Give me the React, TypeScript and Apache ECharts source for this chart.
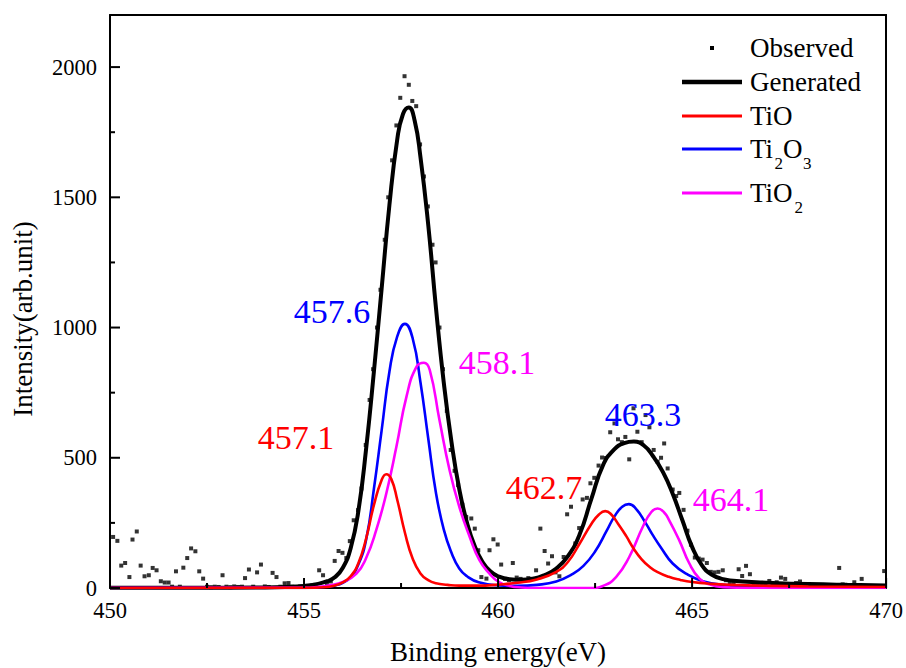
import React, { useEffect, useRef } from 'react';
import * as echarts from 'echarts';

const FONT = '"Liberation Serif", "Times New Roman", Times, serif';

// ---------- data ----------
const seriesNames = ['Observed', 'Generated', 'TiO', 'Ti2O3', 'TiO2'];
const seriesColors = ['#000000', '#000000', '#ff0000', '#0000ff', '#ff00ff'];

const xTicks = [450, 455, 460, 465, 470];
const xMinorTicks = [452.5, 457.5, 462.5, 467.5];
const yTicks = [0, 500, 1000, 1500, 2000];
const yMinorTicks = [250, 750, 1250, 1750];

const observed: [number, number][] = [
  [450.08, 196], [450.19, 181], [450.29, 86], [450.39, 96], [450.5, 42], [450.58, 186], [450.69, 217],
  [450.79, 86], [450.89, 45], [451.0, 49], [451.1, 77], [451.2, 68], [451.31, 26], [451.41, 21],
  [451.51, 21], [451.6, 5], [451.7, 64], [451.8, 5], [451.89, 78], [451.99, 115], [452.09, 152],
  [452.2, 141], [452.3, 64], [452.4, 36], [452.5, 5], [452.6, 3], [452.7, 5], [452.8, 4], [452.9, 49],
  [453.0, 5], [453.1, 3], [453.2, 6], [453.3, 4], [453.4, 5], [453.48, 38], [453.58, 71], [453.69, 5],
  [453.79, 60], [453.89, 90], [453.99, 6], [454.09, 4], [454.19, 58], [454.29, 42], [454.39, 5],
  [454.5, 18], [454.6, 19], [454.7, 5], [454.8, 4], [454.9, 6], [455.0, 5], [455.1, 8], [455.2, 10],
  [455.29, 12], [455.39, 68], [455.49, 49], [455.59, 18], [455.69, 25], [455.79, 104], [455.89, 142],
  [455.99, 135], [456.09, 115], [456.18, 180], [456.28, 260], [456.39, 299], [456.48, 382], [456.59, 549],
  [456.69, 722], [456.78, 840], [456.88, 1000], [456.97, 1145], [457.08, 1337], [457.17, 1500],
  [457.27, 1642], [457.38, 1776], [457.48, 1882], [457.59, 1965], [457.7, 1932], [457.79, 1870],
  [457.89, 1850], [457.99, 1703], [458.09, 1580], [458.19, 1465], [458.31, 1318], [458.39, 1250],
  [458.49, 1000], [458.58, 840], [458.68, 680], [458.78, 530], [458.88, 450], [458.97, 395],
  [459.08, 320], [459.18, 273], [459.31, 267], [459.4, 228], [459.49, 145], [459.57, 42], [459.7, 36],
  [459.78, 145], [459.88, 187], [459.99, 167], [460.08, 90], [460.18, 35], [460.28, 30], [460.38, 96],
  [460.48, 40], [460.58, 35], [460.68, 30], [460.78, 38], [460.88, 35], [460.98, 68], [461.09, 228],
  [461.2, 142], [461.29, 94], [461.39, 122], [461.48, 60], [461.58, 45], [461.69, 119], [461.78, 283],
  [461.88, 312], [461.99, 171], [462.09, 230], [462.18, 340], [462.29, 346], [462.38, 402], [462.48, 423],
  [462.59, 470], [462.68, 501], [462.78, 499], [462.89, 598], [463.0, 632], [463.09, 571], [463.19, 560],
  [463.28, 580], [463.38, 494], [463.49, 690], [463.59, 600], [463.7, 560], [463.8, 664], [463.9, 617],
  [464.01, 530], [464.11, 485], [464.2, 500], [464.28, 555], [464.37, 459], [464.5, 378], [464.59, 353],
  [464.67, 365], [464.78, 300], [464.88, 220], [464.97, 166], [465.07, 117], [465.17, 113], [465.27, 109],
  [465.38, 96], [465.48, 62], [465.58, 60], [465.68, 62], [465.79, 68], [465.87, 30], [465.97, 20],
  [466.07, 18], [466.2, 72], [466.29, 46], [466.39, 85], [466.49, 53], [466.59, 15], [466.69, 14],
  [466.79, 12], [466.89, 15], [466.99, 27], [467.08, 10], [467.18, 22], [467.29, 40], [467.4, 35],
  [467.5, 12], [467.59, 10], [467.68, 19], [467.78, 25], [467.88, 8], [468.0, 6], [468.2, 5],
  [468.4, 6], [468.6, 5], [468.79, 77], [468.88, 14], [468.98, 8], [469.08, 6], [469.18, 22],
  [469.28, 5], [469.37, 35], [469.47, 5], [469.6, 6], [469.8, 5], [469.95, 65],
];

const generatedCurve: [number, number][] = [
  [450, 1], [451, 1], [452, 1], [453, 1], [454, 2], [454.5, 4], [455, 8], [455.3, 14], [455.6, 26],
  [455.8, 42], [456.0, 78], [456.2, 152], [456.4, 295], [456.6, 535], [456.8, 830], [457.0, 1150],
  [457.2, 1470], [457.4, 1720], [457.55, 1820], [457.7, 1845], [457.85, 1795], [458.0, 1655],
  [458.2, 1395], [458.4, 1075], [458.6, 790], [458.8, 560], [459.0, 380], [459.2, 250], [459.4, 160],
  [459.6, 100], [459.8, 64], [460.0, 45], [460.3, 34], [460.6, 32], [460.9, 36], [461.2, 50],
  [461.5, 75], [461.8, 122], [462.1, 205], [462.4, 340], [462.7, 470], [463.0, 533], [463.25, 556],
  [463.5, 562], [463.75, 548], [464.0, 505], [464.25, 445], [464.5, 362], [464.75, 260], [465.0, 158],
  [465.25, 88], [465.5, 52], [465.8, 34], [466.3, 25], [467, 20], [468, 15], [469, 12], [470, 10],
];

const tioCurve: [number, number][] = [
  [450, 0], [455, 0.5], [455.5, 3], [455.8, 10], [456.0, 22], [456.2, 45], [456.4, 95], [456.6, 190],
  [456.8, 318], [457.0, 415], [457.12, 437], [457.25, 418], [457.4, 340], [457.6, 212], [457.8, 112],
  [458.0, 56], [458.2, 30], [458.4, 18], [458.7, 12], [459.0, 9], [459.5, 9], [460.0, 13], [460.5, 20],
  [461.0, 33], [461.5, 62], [461.8, 100], [462.1, 170], [462.4, 245], [462.6, 282], [462.76, 295],
  [462.9, 285], [463.1, 245], [463.3, 200], [463.5, 150], [463.7, 110], [463.9, 82], [464.1, 62],
  [464.4, 43], [464.7, 31], [465.0, 23], [465.5, 16], [466, 12], [467, 8], [468, 6], [470, 4],
];

const ti2o3Curve: [number, number][] = [
  [450, 0], [455, 0.5], [455.5, 4], [455.8, 10], [456.0, 20], [456.2, 42], [456.4, 90], [456.6, 185],
  [456.8, 380], [457.0, 605], [457.2, 830], [457.4, 965], [457.6, 1014], [457.8, 958], [458.0, 790],
  [458.2, 575], [458.4, 365], [458.6, 225], [458.8, 135], [459.0, 75], [459.2, 45], [459.5, 22],
  [460.0, 10], [460.5, 8], [461.0, 12], [461.5, 25], [461.9, 52], [462.2, 85], [462.5, 140],
  [462.8, 220], [463.0, 275], [463.2, 312], [463.37, 322], [463.55, 305], [463.8, 250], [464.0, 200],
  [464.2, 155], [464.5, 94], [464.9, 50], [465.3, 25], [465.8, 12], [466.5, 5], [468, 2], [470, 1],
];

const tio2Curve: [number, number][] = [
  [450, 0], [455, 1], [455.4, 5], [455.66, 10], [456.0, 23], [456.35, 55], [456.6, 115], [456.86, 222],
  [457.12, 363], [457.38, 542], [457.64, 735], [457.9, 850], [458.09, 865], [458.24, 837], [458.49, 645],
  [458.75, 453], [459.0, 312], [459.27, 196], [459.52, 107], [459.78, 55], [460.0, 25], [460.3, 8],
  [460.6, 2], [461, 0], [462.4, 0], [462.7, 8], [463.04, 42], [463.38, 119], [463.73, 235],
  [463.95, 292], [464.11, 305], [464.28, 290], [464.41, 260], [464.67, 183], [464.93, 94],
  [465.19, 36], [465.44, 14], [465.8, 3], [466.5, 0], [470, 0],
];

const peakLabels = ['457.6', '458.1', '457.1', '462.7', '463.3', '464.1'];
const peakLabelColors = ['#0000ff', '#ff00ff', '#ff0000', '#ff0000', '#0000ff', '#ff00ff'];

// ---------- layout (pixels) ----------
const peakLabelPos: [number, number][] = [
  [332, 311], [497, 362], [296, 437], [544, 487], [643, 414], [731, 499],
];
const legendRowsY = [48, 82, 116, 149, 193];
const legendLineX = [682, 742];
const legendTextX = 750;
const MAJOR_TICK = 10;
const MINOR_TICK = 5;

const blackLine = () => ({ color: '#000', width: 2 });

export default function App() {
  const ref = useRef<HTMLDivElement>(null);

  useEffect(() => {
    if (!ref.current) return;
    const chart = echarts.init(ref.current, undefined, { renderer: 'svg' });

    const lineSeries = (name: string, data: [number, number][], color: string, width: number, z: number) => ({
      name,
      type: 'line',
      data,
      smooth: 0.5,
      showSymbol: false,
      symbol: 'none',
      lineStyle: { color, width },
      itemStyle: { color },
      z,
    });

    const frameAxis = {
      type: 'value',
      axisLine: { show: true, onZero: false, lineStyle: blackLine() },
      axisTick: { show: false },
      axisLabel: { show: false },
      splitLine: { show: false },
    };

    chart.setOption({
      animation: false,
      backgroundColor: '#fff',
      grid: { left: 110, right: 19, top: 15, bottom: 80, show: false },
      xAxis: [
        {
          type: 'value',
          min: xTicks[0],
          max: xTicks[xTicks.length - 1],
          interval: 5,
          position: 'bottom',
          axisLine: { show: true, onZero: false, lineStyle: blackLine() },
          axisTick: { show: false },
          splitLine: { show: false },
          axisLabel: { show: true, margin: 11, fontSize: 22.5, color: '#000', fontFamily: FONT },
        },
        { ...frameAxis, min: 450, max: 470, position: 'top' },
      ],
      yAxis: [
        {
          type: 'value',
          min: 0,
          max: 2200,
          interval: 500,
          position: 'left',
          axisLine: { show: true, onZero: false, lineStyle: blackLine() },
          axisTick: { show: false },
          splitLine: { show: false },
          axisLabel: {
            margin: 13,
            fontSize: 22.5,
            color: '#000',
            fontFamily: FONT,
            formatter: (v: number) => (yTicks.includes(v) ? String(v) : ''),
          },
        },
        { ...frameAxis, min: 0, max: 2200, position: 'right' },
      ],
      series: [
        {
          name: seriesNames[0],
          type: 'scatter',
          data: observed,
          symbol: 'rect',
          symbolSize: 4,
          itemStyle: { color: '#000' },
          z: 2,
        },
        lineSeries(seriesNames[1], generatedCurve, seriesColors[1], 4, 3),
        lineSeries(seriesNames[3], ti2o3Curve, seriesColors[3], 2.6, 4),
        lineSeries(seriesNames[4], tio2Curve, seriesColors[4], 2.6, 5),
        lineSeries(seriesNames[2], tioCurve, seriesColors[2], 2.6, 6),
      ],
    });

    // ---- graphic layer: ticks (positions from the axes' scales), labels, legend ----
    const graphics: any[] = [];
    const x0 = chart.convertToPixel({ xAxisIndex: 0 }, xTicks[0]) as number;
    const y0 = chart.convertToPixel({ yAxisIndex: 0 }, 0) as number;
    const addXTick = (v: number, len: number) => {
      const px = chart.convertToPixel({ xAxisIndex: 0 }, v) as number;
      graphics.push({ type: 'line', z: 50, shape: { x1: px, y1: y0, x2: px, y2: y0 - len }, style: { stroke: '#000', lineWidth: 2 } });
    };
    const addYTick = (v: number, len: number) => {
      const py = chart.convertToPixel({ yAxisIndex: 0 }, v) as number;
      graphics.push({ type: 'line', z: 50, shape: { x1: x0, y1: py, x2: x0 + len, y2: py }, style: { stroke: '#000', lineWidth: 2 } });
    };
    xTicks.forEach((v) => addXTick(v, MAJOR_TICK));
    xMinorTicks.forEach((v) => addXTick(v, MINOR_TICK));
    yTicks.forEach((v) => addYTick(v, MAJOR_TICK));
    yMinorTicks.forEach((v) => addYTick(v, MINOR_TICK));

    peakLabels.forEach((t, i) => {
      graphics.push({
        type: 'text',
        x: peakLabelPos[i][0],
        y: peakLabelPos[i][1],
        z: 100,
        style: {
          text: t,
          fill: peakLabelColors[i],
          fontSize: 34,
          fontFamily: FONT,
          align: 'center',
          verticalAlign: 'middle',
        },
      });
    });
    graphics.push({
      type: 'text',
      x: 498,
      y: 652,
      style: { text: 'Binding energy(eV)', fill: '#000', fontSize: 27, fontFamily: FONT, align: 'center', verticalAlign: 'middle' },
    });
    graphics.push({
      type: 'text',
      x: 23,
      y: 319,
      rotation: Math.PI / 2,
      style: { text: 'Intensity(arb.unit)', fill: '#000', fontSize: 27, fontFamily: FONT, align: 'center', verticalAlign: 'middle' },
    });
    const tStyle = (text: string, size = 27) => ({ text, fill: '#000', fontSize: size, fontFamily: FONT, align: 'left', verticalAlign: 'middle' });
    graphics.push({ type: 'rect', shape: { x: 710, y: legendRowsY[0] - 2, width: 4, height: 4 }, style: { fill: '#000' } });
    graphics.push({ type: 'text', x: legendTextX, y: legendRowsY[0], style: tStyle(seriesNames[0]) });
    [1, 2, 3, 4].forEach((i) => {
      graphics.push({
        type: 'line',
        shape: { x1: legendLineX[0], y1: legendRowsY[i], x2: legendLineX[1], y2: legendRowsY[i] },
        style: { stroke: seriesColors[i], lineWidth: i === 1 ? 4.5 : 3 },
      });
    });
    graphics.push({ type: 'text', x: legendTextX, y: legendRowsY[1], style: tStyle('Generated') });
    graphics.push({ type: 'text', x: legendTextX, y: legendRowsY[2], style: tStyle('TiO') });
    graphics.push({ type: 'text', x: legendTextX, y: legendRowsY[3], style: tStyle('Ti') });
    graphics.push({ type: 'text', x: legendTextX + 24.5, y: legendRowsY[3] + 14, style: tStyle('2', 17) });
    graphics.push({ type: 'text', x: legendTextX + 33, y: legendRowsY[3], style: tStyle('O') });
    graphics.push({ type: 'text', x: legendTextX + 53, y: legendRowsY[3] + 14, style: tStyle('3', 17) });
    graphics.push({ type: 'text', x: legendTextX, y: legendRowsY[4], style: tStyle('TiO') });
    graphics.push({ type: 'text', x: legendTextX + 44.5, y: legendRowsY[4] + 14, style: tStyle('2', 17) });

    chart.setOption({ graphic: graphics });

    return () => chart.dispose();
  }, []);

  return <div ref={ref} style={{ position: 'absolute', left: 0, top: 0, width: 906, height: 668 }} />;
}
